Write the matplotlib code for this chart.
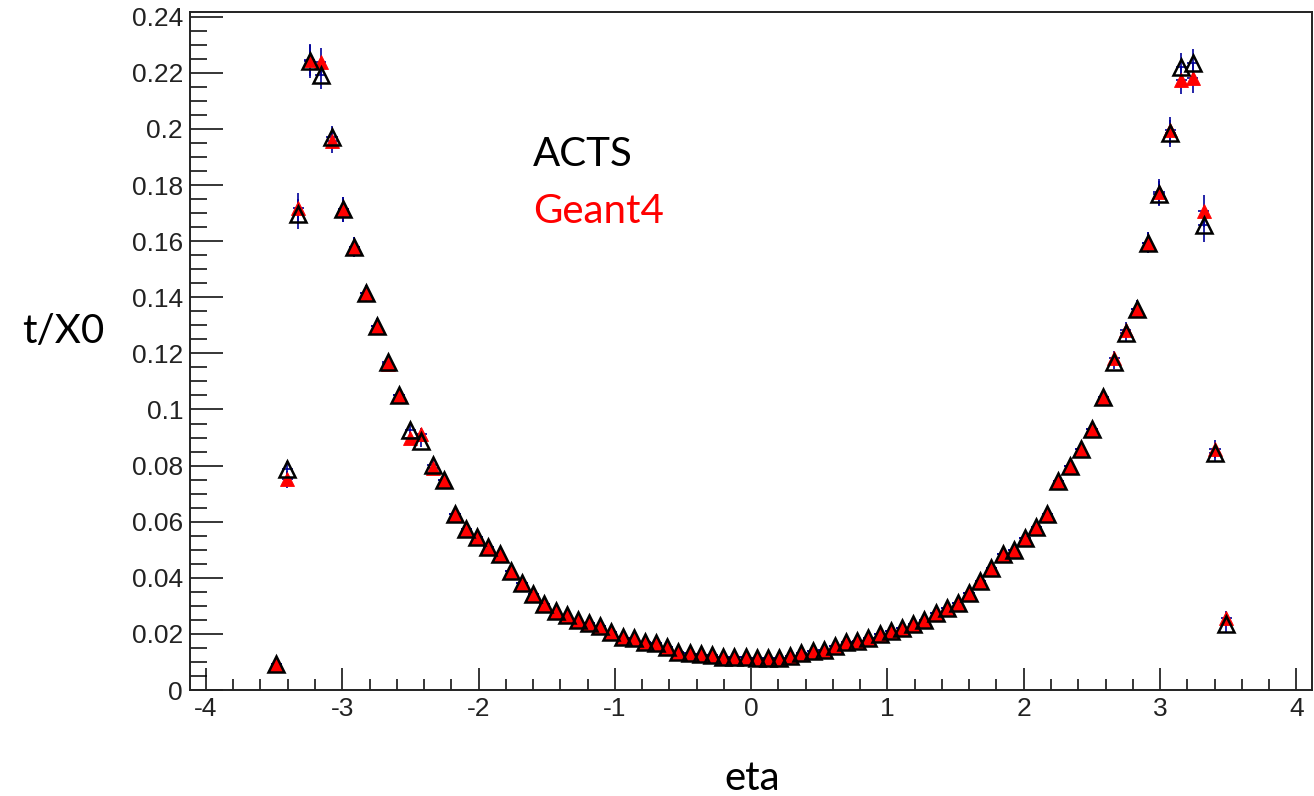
import matplotlib
matplotlib.use("Agg")
import matplotlib.pyplot as plt
from matplotlib.ticker import MultipleLocator, FuncFormatter

# ---- data ----
eta = [-3.485, -3.403, -3.321, -3.239, -3.157, -3.075, -2.993, -2.911, -2.829, -2.747,
       -2.665, -2.583, -2.501, -2.419, -2.337, -2.255, -2.173, -2.091, -2.009, -1.927,
       -1.845, -1.763, -1.681, -1.599, -1.517, -1.435, -1.353, -1.271, -1.189, -1.107,
       -1.025, -0.943, -0.861, -0.779, -0.697, -0.615, -0.533, -0.451, -0.369, -0.287,
       -0.205, -0.123, -0.041, 0.041, 0.123, 0.205, 0.287, 0.369, 0.451, 0.533,
       0.615, 0.697, 0.779, 0.861, 0.943, 1.025, 1.107, 1.189, 1.271, 1.353,
       1.435, 1.517, 1.599, 1.681, 1.763, 1.845, 1.927, 2.009, 2.091, 2.173,
       2.255, 2.337, 2.419, 2.501, 2.583, 2.665, 2.747, 2.829, 2.911, 2.993,
       3.075, 3.157, 3.239, 3.321, 3.403, 3.485]

acts = [0.0092, 0.0787, 0.1698, 0.2241, 0.2192, 0.1970, 0.1713, 0.1578, 0.1414, 0.1299,
        0.1168, 0.1053, 0.0926, 0.0888, 0.0803, 0.0748, 0.0626, 0.0573, 0.0545, 0.0510,
        0.0486, 0.0426, 0.0382, 0.0341, 0.0305, 0.0281, 0.0269, 0.0249, 0.0239, 0.0228,
        0.0207, 0.0189, 0.0184, 0.0172, 0.0168, 0.0154, 0.0136, 0.0132, 0.0129, 0.0124,
        0.0117, 0.0117, 0.0118, 0.0114, 0.0114, 0.0114, 0.0120, 0.0132, 0.0138, 0.0144,
        0.0156, 0.0170, 0.0174, 0.0184, 0.0198, 0.0210, 0.0221, 0.0236, 0.0251, 0.0275,
        0.0293, 0.0311, 0.0346, 0.0388, 0.0436, 0.0484, 0.0498, 0.0541, 0.0581, 0.0626,
        0.0745, 0.0799, 0.0859, 0.0930, 0.1045, 0.1168, 0.1271, 0.1359, 0.1595, 0.1769,
        0.1984, 0.2221, 0.2234, 0.1656, 0.0846, 0.0234]

geant4 = [0.0092, 0.0751, 0.1717, 0.2246, 0.2239, 0.1957, 0.1713, 0.1578, 0.1414, 0.1299,
          0.1162, 0.1053, 0.0900, 0.0914, 0.0793, 0.0748, 0.0626, 0.0573, 0.0545, 0.0510,
          0.0486, 0.0426, 0.0382, 0.0341, 0.0305, 0.0281, 0.0269, 0.0249, 0.0239, 0.0228,
          0.0207, 0.0189, 0.0184, 0.0172, 0.0168, 0.0154, 0.0136, 0.0132, 0.0129, 0.0124,
          0.0117, 0.0117, 0.0118, 0.0114, 0.0114, 0.0114, 0.0120, 0.0132, 0.0138, 0.0144,
          0.0156, 0.0170, 0.0174, 0.0184, 0.0198, 0.0210, 0.0221, 0.0236, 0.0251, 0.0275,
          0.0293, 0.0311, 0.0346, 0.0388, 0.0436, 0.0484, 0.0498, 0.0541, 0.0581, 0.0626,
          0.0745, 0.0799, 0.0859, 0.0930, 0.1045, 0.1184, 0.1284, 0.1359, 0.1595, 0.1775,
          0.1995, 0.2176, 0.2180, 0.1707, 0.0859, 0.0255]

acts_err = [0.0008, 0.0030, 0.0054, 0.0058, 0.0050, 0.0042, 0.0046, 0.0036, 0.0030, 0.0027,
            0.0025, 0.0023, 0.0021, 0.0021, 0.0019, 0.0018, 0.0016, 0.0015, 0.0014, 0.0013,
            0.0013, 0.0012, 0.0011, 0.0010, 0.0010, 0.0009, 0.0009, 0.0008, 0.0008, 0.0008,
            0.0007, 0.0007, 0.0007, 0.0006, 0.0006, 0.0006, 0.0005, 0.0005, 0.0005, 0.0005,
            0.0005, 0.0005, 0.0005, 0.0005, 0.0005, 0.0005, 0.0005, 0.0005, 0.0005, 0.0005,
            0.0006, 0.0006, 0.0006, 0.0007, 0.0007, 0.0007, 0.0008, 0.0008, 0.0008, 0.0009,
            0.0009, 0.0010, 0.0010, 0.0011, 0.0012, 0.0013, 0.0013, 0.0014, 0.0015, 0.0016,
            0.0018, 0.0019, 0.0021, 0.0021, 0.0023, 0.0025, 0.0027, 0.0030, 0.0036, 0.0045,
            0.0048, 0.0050, 0.0050, 0.0058, 0.0032, 0.0026]

geant4_err = [0.0008, 0.0030, 0.0054, 0.0058, 0.0050, 0.0042, 0.0046, 0.0036, 0.0030, 0.0027,
              0.0025, 0.0023, 0.0021, 0.0021, 0.0019, 0.0018, 0.0016, 0.0015, 0.0014, 0.0013,
              0.0013, 0.0012, 0.0011, 0.0010, 0.0010, 0.0009, 0.0009, 0.0008, 0.0008, 0.0008,
              0.0007, 0.0007, 0.0007, 0.0006, 0.0006, 0.0006, 0.0005, 0.0005, 0.0005, 0.0005,
              0.0005, 0.0005, 0.0005, 0.0005, 0.0005, 0.0005, 0.0005, 0.0005, 0.0005, 0.0005,
              0.0006, 0.0006, 0.0006, 0.0007, 0.0007, 0.0007, 0.0008, 0.0008, 0.0008, 0.0009,
              0.0009, 0.0010, 0.0010, 0.0011, 0.0012, 0.0013, 0.0013, 0.0014, 0.0015, 0.0016,
              0.0018, 0.0019, 0.0021, 0.0021, 0.0023, 0.0025, 0.0027, 0.0030, 0.0036, 0.0045,
              0.0048, 0.0050, 0.0050, 0.0058, 0.0032, 0.0026]

bin_half_width = 0.041

x_ticks = [-4, -3, -2, -1, 0, 1, 2, 3, 4]
y_ticks = [0, 0.02, 0.04, 0.06, 0.08, 0.1, 0.12, 0.14, 0.16, 0.18, 0.2, 0.22, 0.24]

# ---- figure ----
fig = plt.figure(figsize=(13.14, 7.96), dpi=100)
fig.patch.set_facecolor("white")
ax = fig.add_axes([190 / 1314, 1 - 690 / 796, 1122 / 1314, 677.7 / 796])

err_color = "#000099"
ax.errorbar(eta, geant4, yerr=geant4_err, xerr=bin_half_width, fmt="none",
            ecolor=err_color, elinewidth=1.2, capsize=0, zorder=2)
ax.errorbar(eta, acts, yerr=acts_err, xerr=bin_half_width, fmt="none",
            ecolor=err_color, elinewidth=1.2, capsize=0, zorder=2)
ax.plot(eta, geant4, ls="none", marker="^", ms=10.5, mfc="red", mec="red",
        mew=0.6, zorder=3)
ax.plot(eta, acts, ls="none", marker="^", ms=11, mfc="none", mec="black",
        mew=1.8, zorder=4)

ax.set_xlim(-4.117, 4.115)
ax.set_ylim(0, 0.2416)
ax.set_xticks(x_ticks)
ax.set_yticks(y_ticks)
ax.xaxis.set_minor_locator(MultipleLocator(0.2))
ax.yaxis.set_minor_locator(MultipleLocator(0.005))
fmt = FuncFormatter(lambda v, p: "%g" % round(v, 4))
ax.xaxis.set_major_formatter(fmt)
ax.yaxis.set_major_formatter(fmt)

tick_font = "Liberation Sans"
for lab in ax.get_xticklabels() + ax.get_yticklabels():
    lab.set_fontfamily(tick_font)
    lab.set_fontsize(19)
    lab.set_color("#222222")

ax.tick_params(axis="x", which="major", direction="in", length=15.8, width=1.1,
               pad=5, top=False, bottom=True)
ax.tick_params(axis="x", which="minor", direction="in", length=8.2, width=1.1,
               top=False, bottom=True)
ax.tick_params(axis="y", which="major", direction="in", length=23.8, width=1.1,
               pad=5, right=False, left=True)
ax.tick_params(axis="y", which="minor", direction="in", length=12.0, width=1.1,
               right=False, left=True)
for sp in ax.spines.values():
    sp.set_linewidth(1.4)
    sp.set_color("#222222")

# ---- texts ----
label_font = ["Lato", "DejaVu Sans"]
fig.text(22 / 1314, 1 - 343 / 796, "t/X0", fontsize=29, family=label_font,
         ha="left", va="baseline", color="black")
fig.text(752 / 1314, 1 - 790 / 796, "eta", fontsize=29, family=label_font,
         ha="center", va="baseline", color="black")
fig.text(533 / 1314, 1 - 166 / 796, "ACTS", fontsize=29, family=label_font,
         ha="left", va="baseline", color="black")
fig.text(533 / 1314, 1 - 223 / 796, "Geant4", fontsize=29, family=label_font,
         ha="left", va="baseline", color="red")

fig.savefig("out.png", dpi=100, facecolor="white")
